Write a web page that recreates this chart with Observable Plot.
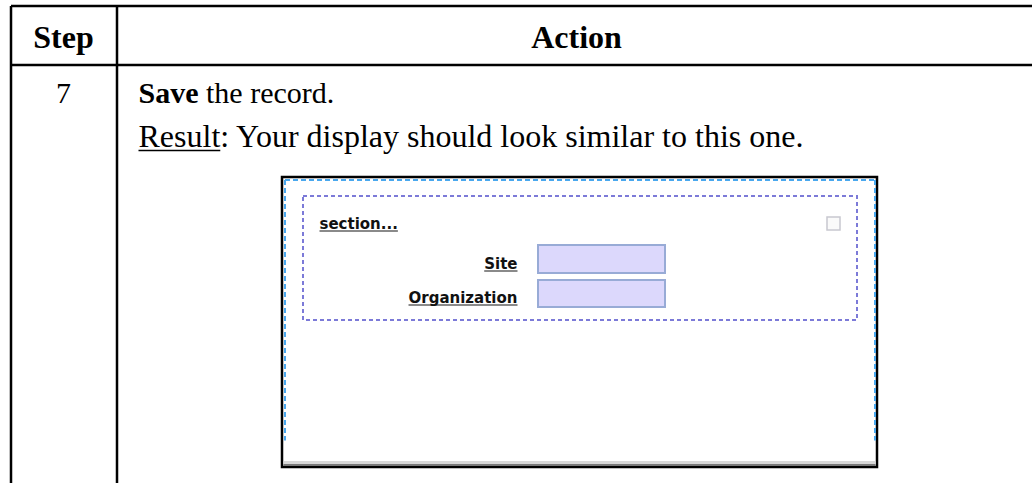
<!DOCTYPE html>
<html>
<head>
<meta charset="utf-8">
<script src="https://cdn.jsdelivr.net/npm/d3@7"></script>
<script src="https://cdn.jsdelivr.net/npm/@observablehq/plot@0.6"></script>
<style>
  html, body { margin: 0; padding: 0; background: #fff; }
  #chart svg { display: block; }
</style>
</head>
<body>
<div id="chart"></div>
<script>
// ---- content ----
const headers = ["Step", "Action"];
const stepNumbers = ["7"];
const actionBold = ["Save"];
const actionRest = ["the record."];
const resultLabel = ["Result"];
const resultText = [": Your display should look similar to this one."];
const sectionTitle = ["section..."];
const formLabels = ["Site", "Organization"];

// ---- layout (pixels) ----
const W = 1032, H = 483;
const table = { left: 10.5, divider: 116.5, right: 1040, top: 5.5, headerBottom: 64.5, bottom: 500 };
const headerBaseline = 47;
const headerCenters = [63, 576];
const bodyX = 138;
const lineBaselines = [102, 146];
const headerSize = 32, line1Size = 30, line2Size = 32;
const shot = { x1: 282, x2: 877, y1: 177, y2: 467 };
const group = { x1: 303, x2: 857, y1: 196, y2: 320 };
const labelRight = 517;
const labelBaselines = [268, 302];
const inputBox = { x1: 538, x2: 665, ys: [[245, 273], [280, 307]] };

const serif = "Liberation Serif, Times New Roman, serif";
const sans = "DejaVu Sans, Verdana, sans-serif";
const ctx = document.createElement("canvas").getContext("2d");
function measure(txt, font) { ctx.font = font; return ctx.measureText(txt).width; }

const saveW = measure(actionBold[0] + " ", `bold ${line1Size}px ${serif}`);
const resultW = measure(resultLabel[0], `${line2Size}px ${serif}`);
const labelWidths = formLabels.map(l => measure(l, `bold 15px ${sans}`));
const sectionW = measure(sectionTitle[0], `bold 15px ${sans}`);

const tableLines = [
  {x1: table.left, x2: table.right, y1: table.top, y2: table.top},
  {x1: table.left, x2: table.right, y1: table.headerBottom, y2: table.headerBottom},
  {x1: table.left, x2: table.left, y1: table.top, y2: table.bottom},
  {x1: table.divider, x2: table.divider, y1: table.top, y2: table.bottom}
];
const blueDash = [
  {x1: shot.x1 + 2.5, x2: shot.x2 - 2.5, y1: shot.y1 + 2.5, y2: shot.y1 + 2.5},
  {x1: shot.x1 + 2.5, x2: shot.x1 + 2.5, y1: shot.y1 + 2.5, y2: 440},
  {x1: shot.x2 - 2.5, x2: shot.x2 - 2.5, y1: shot.y1 + 2.5, y2: 440}
];

const plot = Plot.plot({
  width: W, height: H, margin: 0,
  x: {type: "identity", axis: null},
  y: {type: "identity", axis: null},
  marks: [
    // table grid
    Plot.link(tableLines, {x1: "x1", x2: "x2", y1: "y1", y2: "y2", stroke: "#000", strokeWidth: 2.5}),
    // headers
    Plot.text(headers, {x: (d, i) => headerCenters[i], y: headerBaseline, text: d => d, fontFamily: serif, fontWeight: "bold", fontSize: headerSize, lineAnchor: "bottom", fill: "#000"}),
    // step number
    Plot.text(stepNumbers, {x: headerCenters[0], y: lineBaselines[0], text: d => d, fontFamily: serif, fontSize: line1Size, lineAnchor: "bottom", fill: "#000"}),
    // action line 1
    Plot.text(actionBold, {x: bodyX, y: lineBaselines[0], text: d => d, fontFamily: serif, fontWeight: "bold", fontSize: line1Size, textAnchor: "start", lineAnchor: "bottom", fill: "#000"}),
    Plot.text(actionRest, {x: bodyX + saveW, y: lineBaselines[0], text: d => d, fontFamily: serif, fontSize: line1Size, textAnchor: "start", lineAnchor: "bottom", fill: "#000"}),
    // action line 2
    Plot.text(resultLabel, {x: bodyX, y: lineBaselines[1], text: d => d, fontFamily: serif, fontSize: line2Size, textAnchor: "start", lineAnchor: "bottom", fill: "#000"}),
    Plot.link(resultLabel, {x1: bodyX, x2: bodyX + resultW, y1: lineBaselines[1] + 4, y2: lineBaselines[1] + 4, stroke: "#000", strokeWidth: 1.5}),
    Plot.text(resultText, {x: bodyX + resultW, y: lineBaselines[1], text: d => d, fontFamily: serif, fontSize: line2Size, textAnchor: "start", lineAnchor: "bottom", fill: "#000"}),
    // screenshot frame
    Plot.rect([shot], {x1: "x1", x2: "x2", y1: "y1", y2: "y2", fill: "#fff", stroke: "#000", strokeWidth: 2.5}),
    Plot.link(blueDash, {x1: "x1", x2: "x2", y1: "y1", y2: "y2", stroke: "#4aa8ee", strokeWidth: 2, strokeDasharray: "5,3"}),
    Plot.rect([{x1: shot.x1 + 1.5, x2: shot.x2 - 1.5, y1: shot.y2 - 6, y2: shot.y2 - 3}], {x1: "x1", x2: "x2", y1: "y1", y2: "y2", fill: "#d8d8d8"}),
    Plot.rect([{x1: shot.x1 + 1.5, x2: shot.x2 - 1.5, y1: shot.y2 - 3, y2: shot.y2 - 1}], {x1: "x1", x2: "x2", y1: "y1", y2: "y2", fill: "#7a7a7a"}),
    // group box
    Plot.rect([group], {x1: "x1", x2: "x2", y1: "y1", y2: "y2", fill: "none", stroke: "#7c7ad8", strokeWidth: 2, strokeDasharray: "4,3"}),
    // section title
    Plot.link(sectionTitle, {x1: 319, x2: 319 + sectionW, y1: 230.5, y2: 230.5, stroke: "#8a8a8a", strokeWidth: 2}),
    Plot.text(sectionTitle, {x: 319, y: 228, text: d => d, fontFamily: sans, fontWeight: "bold", fontSize: 15, textAnchor: "start", lineAnchor: "bottom", fill: "#111"}),
    // checkbox
    Plot.rect([{x1: 827, x2: 840, y1: 217, y2: 230}], {x1: "x1", x2: "x2", y1: "y1", y2: "y2", fill: "#fafafa", stroke: "#c8c8d0", strokeWidth: 1.5}),
    // form labels
    Plot.link(formLabels, {x1: (d, i) => labelRight - labelWidths[i], x2: labelRight, y1: (d, i) => labelBaselines[i] + 2.5, y2: (d, i) => labelBaselines[i] + 2.5, stroke: "#8a8a8a", strokeWidth: 2}),
    Plot.text(formLabels, {x: labelRight, y: (d, i) => labelBaselines[i], text: d => d, fontFamily: sans, fontWeight: "bold", fontSize: 15, textAnchor: "end", lineAnchor: "bottom", fill: "#111"}),
    // input boxes
    Plot.rect(formLabels, {x1: inputBox.x1, x2: inputBox.x2, y1: (d, i) => inputBox.ys[i][0], y2: (d, i) => inputBox.ys[i][1], fill: "#dcd8fc", stroke: "#98abd6", strokeWidth: 2})
  ]
});
document.getElementById("chart").appendChild(plot);
</script>
</body>
</html>
